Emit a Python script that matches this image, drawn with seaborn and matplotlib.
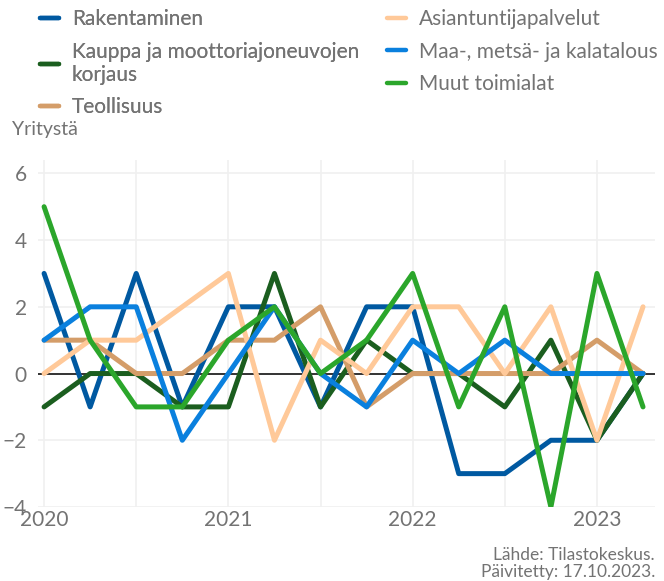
#%% bibliotecas
import numpy as np
import pandas as pd
import seaborn as sns
import matplotlib.pyplot as plt
from matplotlib.lines import Line2D

#%% dados (neljännesvuosittain 2020Q1 - 2023Q2)
quarters = np.arange(2020, 2023.5, 0.25)   # 14 neljännestä

rakentaminen = [3, -1, 3, -1, 2, 2, -1, 2, 2, -3, -3, -2, -2, 0]
kauppa = [-1, 0, 0, -1, -1, 3, -1, 1, 0, 0, -1, 1, -2, 0]
teollisuus = [1, 1, 0, 0, 1, 1, 2, -1, 0, 0, 0, 0, 1, 0]
asiantuntija = [0, 1, 1, 2, 3, -2, 1, 0, 2, 2, 0, 2, -2, 2]
maa_metsa = [1, 2, 2, -2, 0, 2, 0, -1, 1, 0, 1, 0, 0, 0]
muut = [5, 1, -1, -1, 1, 2, 0, 1, 3, -1, 2, -4, 3, -1]

series_names = ['Rakentaminen', 'Kauppa ja moottoriajoneuvojen\nkorjaus', 'Teollisuus',
                'Asiantuntijapalvelut', 'Maa-, metsä- ja kalatalous', 'Muut toimialat']
series_values = [rakentaminen, kauppa, teollisuus, asiantuntija, maa_metsa, muut]
colors = ['#0059A1', '#1B5E1F', '#D49D69', '#FFC999', '#0A80DE', '#2BA62B']

#%% dataframe longo
df = pd.concat([pd.DataFrame({'aika': quarters, 'arvo': v, 'toimiala': n})
                for n, v in zip(series_names, series_values)], ignore_index=True)

#%% figura
sns.set_style('white')
plt.rcParams['font.family'] = ['Lato', 'DejaVu Sans']
GREY = '#737373'

fig = plt.figure(figsize=(6.64, 5.81), dpi=100)
ax = fig.add_axes([38 / 664, 1 - 507 / 581, 617 / 664, 347 / 581])

# vaakaviiva nollassa
ax.axhline(0, color='black', lw=1.1, zorder=3)

sns.lineplot(data=df, x='aika', y='arvo', hue='toimiala', hue_order=series_names,
             palette=colors, linewidth=3.6, legend=False, ax=ax, zorder=4)

ax.set_xlim(2020 - 0.033, 2023.315)
ax.set_ylim(-4, 6.4)
ax.set_yticks([-4, -2, 0, 2, 4, 6])
ax.set_xticks([2020, 2021, 2022, 2023])
ax.set_xticklabels(['2020', '2021', '2022', '2023'])
ax.set_xticks(np.arange(2020, 2023.5, 0.5), minor=True)
ax.grid(True, which='both', color='#F0F0F0', lw=1.2)
ax.set_axisbelow(True)
for s in ax.spines.values():
    s.set_visible(False)
ax.tick_params(axis='both', length=0, labelsize=15, labelcolor=GREY)
ax.tick_params(axis='x', pad=2)
ax.tick_params(axis='y', pad=8)
ax.set_xlabel('')
ax.set_ylabel('')

# y-akselin otsikko
fig.text(12 / 664, 1 - 135 / 581, 'Yritystä', fontsize=14, color=GREY,
         ha='left', va='baseline')

# selite kahdessa sarakkeessa
handles = [Line2D([0], [0], color=c, lw=3.2) for c in colors]
leg_kw = dict(loc='upper left', frameon=False, fontsize=15,
              handlelength=0.9, handletextpad=0.62, labelspacing=0.6, borderpad=0,
              borderaxespad=0, labelcolor=GREY)
leg1 = fig.legend(handles[:3], series_names[:3], bbox_to_anchor=(40 / 664, 1 - 9 / 581), **leg_kw)
fig.legend(handles[3:], series_names[3:], bbox_to_anchor=(387 / 664, 1 - 9 / 581), **leg_kw)
fig.add_artist(leg1)

# lähde
fig.text(655 / 664, 1 - 577 / 581, 'Lähde: Tilastokeskus.\nPäivitetty: 17.10.2023.',
         fontsize=12.5, color=GREY, ha='right', va='baseline', linespacing=1.05)

plt.savefig('out.png', dpi=100)
